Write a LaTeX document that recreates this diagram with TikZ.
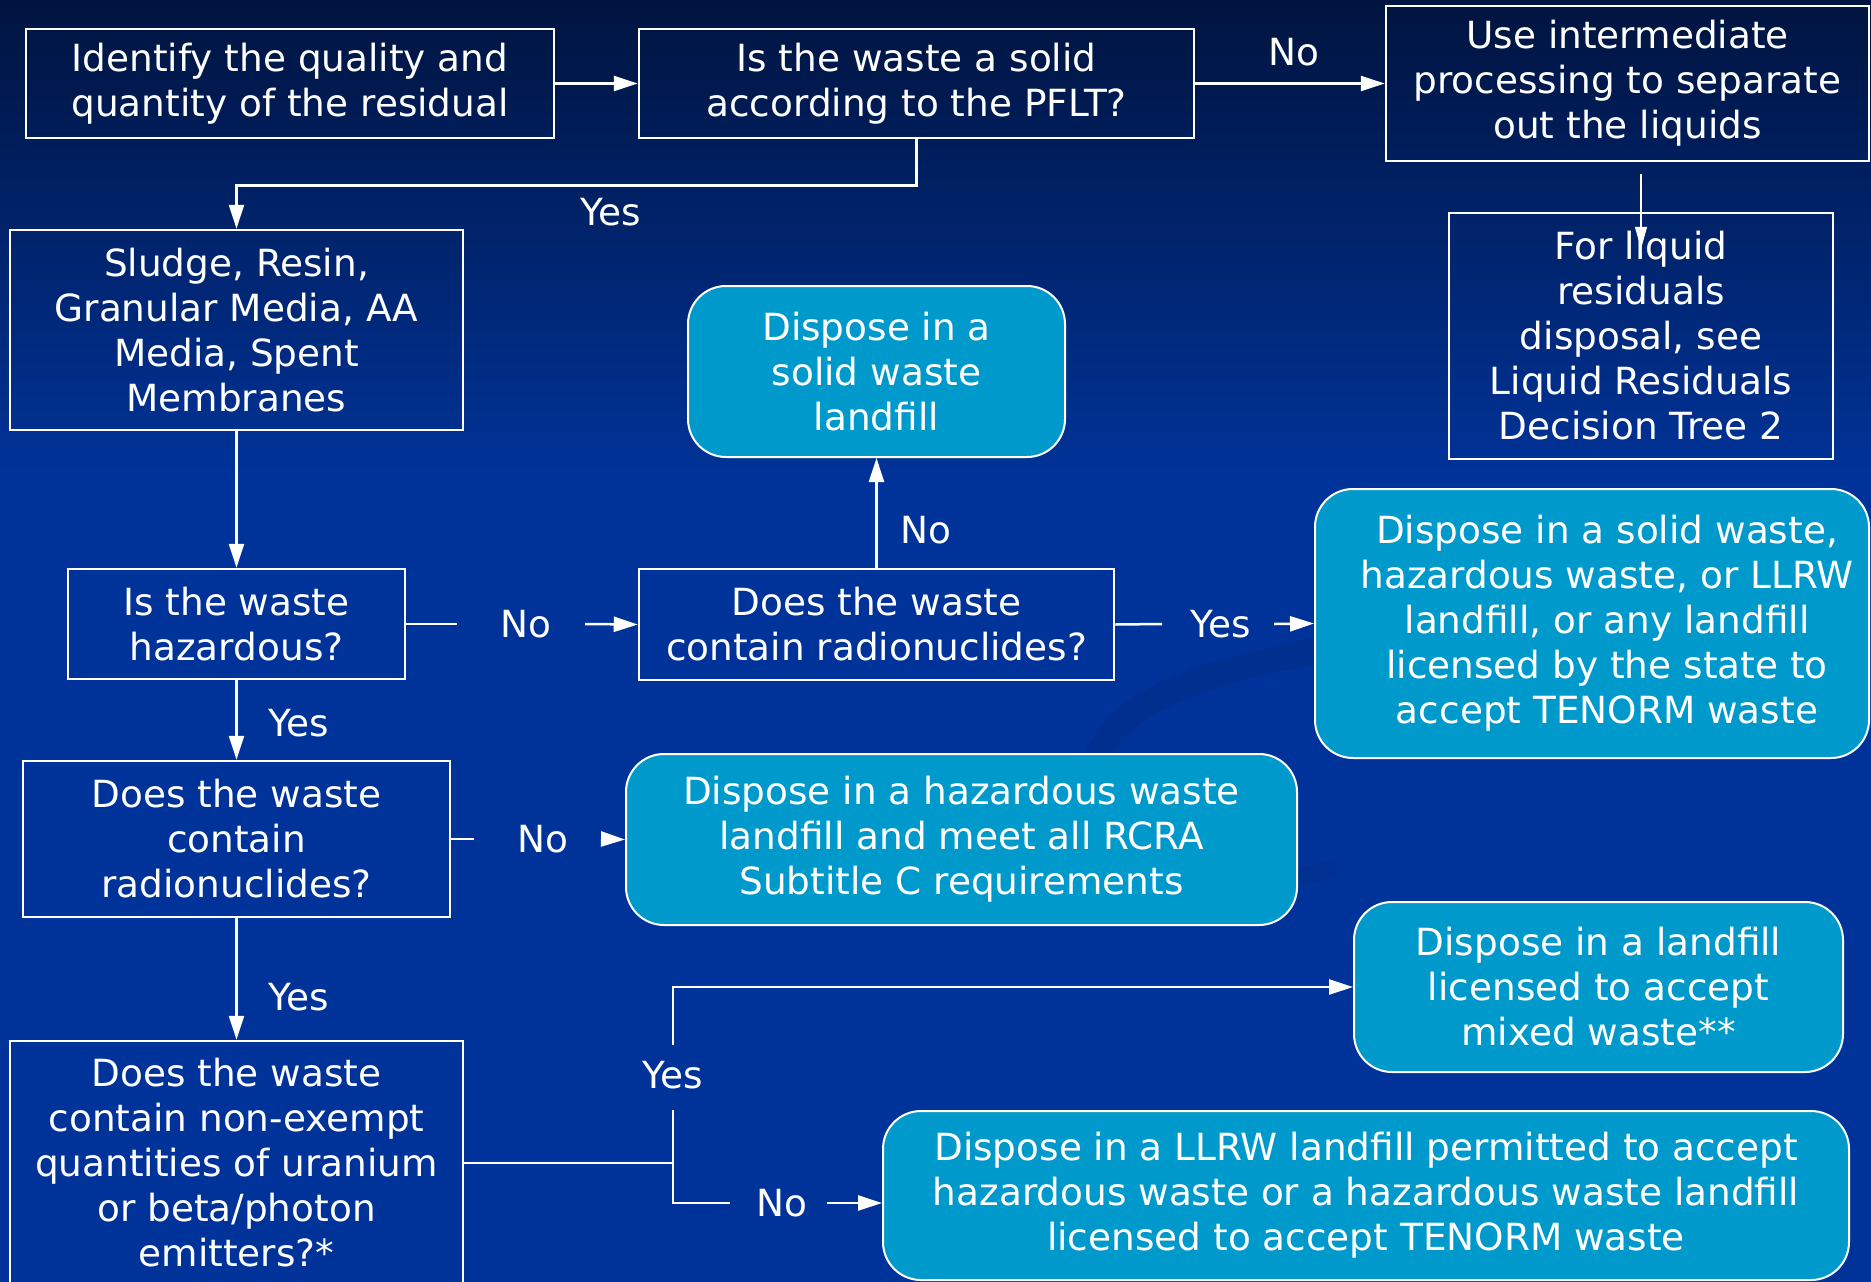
\documentclass[tikz,border=0pt]{standalone}
\usepackage{fontspec}
\setmainfont{DejaVu Sans}
\usetikzlibrary{arrows.meta,calc}
\definecolor{bgtop}{HTML}{00143F}
\definecolor{bgbot}{HTML}{003399}
\definecolor{cyanbox}{HTML}{0099CC}
\definecolor{swooshc}{HTML}{002D8A}
\newcommand{\lpad}{\hspace*{30pt}}
\begin{document}
\begin{tikzpicture}[x=1pt,y=-1pt,
  every node/.style={font=\fontsize{37.4}{45}\selectfont, text=white, align=center, inner sep=0pt},
  qbox/.style={draw=white, line width=2.5pt},
  cbox/.style={draw=white, line width=2pt, fill=cyanbox, rounded corners=38pt},
  lbl/.style={},
  wl/.style={draw=white, line width=2.5pt},
  arr/.style={wl, -{Triangle[length=24pt,width=15pt]}},
  arrs/.style={draw=white, line width=1.5pt, -{Triangle[length=22pt,width=12pt]}}]
\useasboundingbox (0,0) rectangle (1871,1282);
\shade[top color=bgtop, bottom color=bgbot] (0,0) rectangle (1871,480);
\fill[bgbot] (0,479) rectangle (1871,1282);
\draw[swooshc, line width=26pt, line cap=round, opacity=0.6] (1320,650) .. controls (1160,680) and (1085,720) .. (1092,800);
\draw[swooshc, line width=18pt, line cap=round, opacity=0.45] (1095,820) .. controls (1110,880) and (1200,900) .. (1330,870);

% boxes
\node[qbox, minimum width=528pt, minimum height=109pt] (b1) at (290,83.5) {Identify the quality and\\quantity of the residual};
\node[qbox, minimum width=555pt, minimum height=109pt] (b2) at (916.5,83.5) {Is the waste a solid\\according to the PFLT?};
\node[qbox, minimum width=483pt, minimum height=155pt] (b3) at (1627.5,83.5) {Use intermediate\\processing to separate\\out the liquids};
\node[qbox, minimum width=384pt, minimum height=246pt] (b4) at (1641,336) {For liquid\\residuals\\disposal, see\\Liquid Residuals\\Decision Tree 2};
\node[qbox, minimum width=453pt, minimum height=200pt] (b5) at (236.5,330) {Sludge, Resin,\\Granular Media, AA\\Media, Spent\\Membranes};
\node[qbox, minimum width=337pt, minimum height=110pt] (b6) at (236.5,624) {Is the waste\\hazardous?};
\node[qbox, minimum width=475pt, minimum height=111pt] (b7) at (876.5,624.5) {Does the waste\\contain radionuclides?};
\node[cbox, minimum width=377pt, minimum height=171pt] (b8) at (876.5,371.5) {Dispose in a\\solid waste\\landfill};
\node[cbox, minimum width=554pt, minimum height=269pt] (b9) at (1592,623.5) {\lpad Dispose in a solid waste,\\\lpad hazardous waste, or LLRW\\\lpad landfill, or any landfill\\\lpad licensed by the state to\\\lpad accept TENORM waste};
\node[qbox, minimum width=427pt, minimum height=156pt] (b10) at (236.5,839) {Does the waste\\contain\\radionuclides?};
\node[cbox, minimum width=671pt, minimum height=171pt] (b11) at (961.5,839.5) {Dispose in a hazardous waste\\landfill and meet all RCRA\\Subtitle C requirements};
\node[qbox, minimum width=453pt, minimum height=244pt] (b12) at (236.5,1163) {Does the waste\\contain non-exempt\\quantities of uranium\\or beta/photon\\emitters?*};
\node[cbox, minimum width=489pt, minimum height=170pt] (b13) at (1598.5,987) {Dispose in a landfill\\licensed to accept\\mixed waste**};
\node[cbox, minimum width=966pt, minimum height=169pt] (b14) at (1366,1195.5) {Dispose in a LLRW landfill permitted to accept\\hazardous waste or a hazardous waste landfill\\licensed to accept TENORM waste};

% labels
\node[lbl] (lNo1) at (1294,52) {No};
\node[lbl] (lYes1) at (611,212) {Yes};
\node[lbl] (l67) at (526,624) {No};
\node[lbl] (l78) at (926,530) {No};
\node[lbl] (l79) at (1221,624) {Yes};
\node[lbl] (l610) at (299,723) {Yes};
\node[lbl] (l1011) at (543,839) {No};
\node[lbl] (l1012) at (299,997) {Yes};
\node[lbl] (lY13) at (673,1075) {Yes};
\node[lbl] (lN14) at (782,1203) {No};

% connectors
\draw[arr] (b1.east) -- (b2.west);
\draw[arr] (b2.east) -- (b3.west);
\draw[arrs] ($(b3.south -| b4.north)+(0,12)$) -- ([yshift=-37pt]b4.north);
\draw[arr] (b2.south) -- ++(0,46) -| (b5.north);
\draw[arr] (b5.south) -- (b6.north);
\draw[wl] (b6.east) -- ([xshift=-69pt]l67.center);
\draw[arr] ([xshift=59pt]l67.center) -- (b7.west);
\draw[arr] (b7.north) -- (b8.south);
\draw[wl] (b7.east) -- ([xshift=-59pt]l79.center);
\draw[arr] ([xshift=53pt]l79.center) -- (b9.west);
\draw[arr] (b6.south) -- (b10.north);
\draw[wl] (b10.east) -- ([xshift=-69pt]l1011.center);
\draw[arr] ([xshift=58pt]l1011.center) -- (b11.west);
\draw[arr] (b10.south) -- (b12.north);
\coordinate (j) at (673,1163);
\draw[wl] (b12.east) -- (j);
\draw[wl] (j) -- ([yshift=-35pt]lY13.center);
\draw[arr] ([yshift=30pt]lY13.center) -- (lY13.center |- b13.west) -- (b13.west);
\draw[wl] (j) |- ([xshift=-52pt]lN14.center);
\draw[arr] ([xshift=45pt]lN14.center) -- (lN14.center -| b14.west);
\end{tikzpicture}
\end{document}
